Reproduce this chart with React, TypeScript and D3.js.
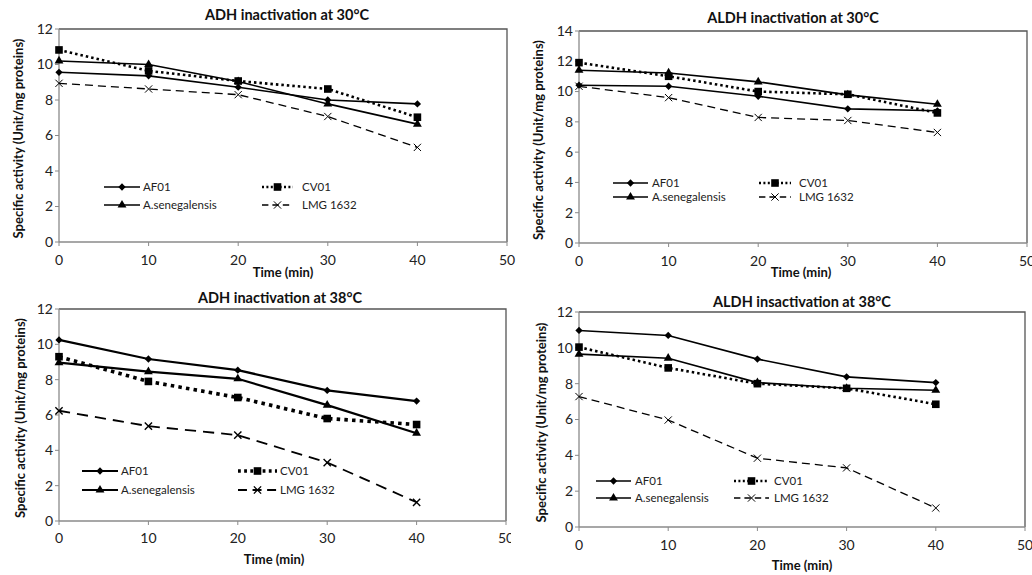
import React, { useEffect, useRef } from "react";
import * as d3 from "d3";

// time points (min)
const times = [0, 10, 20, 30, 40];
const seriesNames = ["AF01", "CV01", "A.senegalensis", "LMG 1632"];

// ADH inactivation at 30°C
const adh30AF01 = [9.56, 9.36, 8.72, 8.0, 7.78];
const adh30CV01 = [10.82, 9.64, 9.07, 8.62, 7.03];
const adh30Asen = [10.2, 10.0, 9.04, 7.78, 6.64];
const adh30LMG = [8.94, 8.62, 8.3, 7.07, 5.33];

// ALDH inactivation at 30°C
const aldh30AF01 = [10.42, 10.35, 9.69, 8.86, 8.73];
const aldh30CV01 = [11.91, 11.01, 10.0, 9.82, 8.59];
const aldh30Asen = [11.41, 11.23, 10.64, 9.78, 9.16];
const aldh30LMG = [10.35, 9.6, 8.29, 8.09, 7.3];

// ADH inactivation at 38°C
const adh38AF01 = [10.25, 9.17, 8.54, 7.39, 6.79];
const adh38CV01 = [9.3, 7.9, 6.99, 5.8, 5.46];
const adh38Asen = [8.96, 8.45, 8.05, 6.56, 4.97];
const adh38LMG = [6.24, 5.37, 4.86, 3.31, 1.06];

// ALDH insactivation at 38°C
const aldh38AF01 = [10.97, 10.69, 9.37, 8.38, 8.06];
const aldh38CV01 = [10.04, 8.88, 8.0, 7.74, 6.85];
const aldh38Asen = [9.65, 9.42, 8.06, 7.74, 7.63];
const aldh38LMG = [7.28, 5.97, 3.84, 3.3, 1.06];

const titles = [
  "ADH inactivation at 30°C",
  "ALDH inactivation at 30°C",
  "ADH inactivation at 38°C",
  "ALDH insactivation at 38°C",
];
const yMaxes = [12, 14, 12, 12];
const xTicks = [0, 10, 20, 30, 40, 50];

const FONT = "Lato, 'Open Sans', sans-serif";

const panels = [
  {
    data: [adh30AF01, adh30CV01, adh30Asen, adh30LMG],
    x0: 59, x1: 507, yTop: 29, yBot: 242,
    titleX: 287, titleY: 15, yLabX: 18, xLabX: 283, xLabY: 272, tickY: 260,
    legRows: [187, 205], legCols: [[104, 140, 143], [262, 293, 302]],
    weight: 1, clip: null,
  },
  {
    data: [aldh30AF01, aldh30CV01, aldh30Asen, aldh30LMG],
    x0: 579, x1: 1027, yTop: 31, yBot: 243,
    titleX: 793, titleY: 18, yLabX: 538, xLabX: 801, xLabY: 272, tickY: 261,
    legRows: [183, 197], legCols: [[613, 648, 652], [759, 791, 799]],
    weight: 1, clip: null,
  },
  {
    data: [adh38AF01, adh38CV01, adh38Asen, adh38LMG],
    x0: 59, x1: 506, yTop: 309, yBot: 521,
    titleX: 280, titleY: 298, yLabX: 20, xLabX: 274, xLabY: 559, tickY: 538,
    legRows: [471, 490], legCols: [[82, 118, 121], [238, 277, 280]],
    weight: 1.4, clip: 511,
  },
  {
    data: [aldh38AF01, aldh38CV01, aldh38Asen, aldh38LMG],
    x0: 579, x1: 1025, yTop: 312, yBot: 527,
    titleX: 802, titleY: 302, yLabX: 541, xLabX: 802, xLabY: 565, tickY: 545,
    legRows: [481, 498], legCols: [[596, 631, 635], [734, 769, 774]],
    weight: 1, clip: null,
  },
];

// line styles per series: AF01, CV01, A.sen, LMG
const dashes = [null, "2.5,3", null, "8,5"];
const widths = [1.6, 2.6, 1.6, 1.3];
const markers = ["diamond", "square", "triangle", "cross"];

function drawMarker(g, type, x, y, w) {
  if (type === "diamond") {
    g.append("path")
      .attr("d", d3.symbol(d3.symbolDiamond2, 34)())
      .attr("transform", `translate(${x},${y})`)
      .attr("fill", "#000");
  } else if (type === "square") {
    g.append("rect")
      .attr("x", x - 3.8).attr("y", y - 3.8)
      .attr("width", 7.6).attr("height", 7.6)
      .attr("fill", "#000");
  } else if (type === "triangle") {
    g.append("path")
      .attr("d", d3.symbol(d3.symbolTriangle, 34)())
      .attr("transform", `translate(${x},${y})`)
      .attr("fill", "#000");
  } else {
    g.append("path")
      .attr("d", d3.symbol(d3.symbolTimes, 36)())
      .attr("transform", `translate(${x},${y})`)
      .attr("fill", "none")
      .attr("stroke", "#000")
      .attr("stroke-width", 1 * w);
  }
}

const App = () => {
  const ref = useRef(null);

  useEffect(() => {
    const svg = d3.select(ref.current);
    svg.selectAll("*").remove();

    svg.append("rect").attr("width", 1032).attr("height", 575).attr("fill", "#fff");

    panels.forEach((p, pi) => {
      let g = svg.append("g");
      if (p.clip) {
        const id = `clip${pi}`;
        svg.append("clipPath").attr("id", id)
          .append("rect").attr("x", 0).attr("y", 280).attr("width", p.clip).attr("height", 295);
        g.attr("clip-path", `url(#${id})`);
      }

      const x = d3.scaleLinear().domain([0, 50]).range([p.x0, p.x1]);
      const y = d3.scaleLinear().domain([0, yMaxes[pi]]).range([p.yBot, p.yTop]);

      // plot area border (top/right)
      g.append("path")
        .attr("d", `M${p.x0},${p.yTop}H${p.x1}V${p.yBot}`)
        .attr("fill", "none").attr("stroke", "#555").attr("stroke-width", 1.3);

      // y axis
      const yTicks = d3.range(0, yMaxes[pi] + 1, 2);
      g.append("line")
        .attr("x1", p.x0).attr("x2", p.x0).attr("y1", p.yTop).attr("y2", p.yBot)
        .attr("stroke", "#8a8a8a").attr("stroke-width", 1.3);
      yTicks.forEach((t) => {
        g.append("line")
          .attr("x1", p.x0 - 4).attr("x2", p.x0).attr("y1", y(t)).attr("y2", y(t))
          .attr("stroke", "#8a8a8a");
        g.append("text")
          .attr("x", p.x0 - 6).attr("y", y(t)).attr("dy", "0.35em")
          .attr("text-anchor", "end")
          .attr("font-family", FONT).attr("font-size", 14).attr("fill", "#222")
          .text(t);
      });

      // x axis
      g.append("line")
        .attr("x1", p.x0).attr("x2", p.x1).attr("y1", p.yBot).attr("y2", p.yBot)
        .attr("stroke", "#8a8a8a").attr("stroke-width", 1.3);
      xTicks.forEach((t) => {
        g.append("line")
          .attr("x1", x(t)).attr("x2", x(t)).attr("y1", p.yBot).attr("y2", p.yBot + 4)
          .attr("stroke", "#8a8a8a");
        g.append("text")
          .attr("x", x(t)).attr("y", p.tickY).attr("dy", "0.35em")
          .attr("text-anchor", "middle")
          .attr("font-family", FONT).attr("font-size", 14).attr("fill", "#222")
          .text(t);
      });

      // titles
      g.append("text")
        .attr("x", p.titleX).attr("y", p.titleY).attr("dy", "0.35em")
        .attr("text-anchor", "middle")
        .attr("font-family", FONT).attr("font-size", 14.5).attr("font-weight", "bold")
        .attr("fill", "#111")
        .text(titles[pi]);
      g.append("text")
        .attr("x", p.xLabX).attr("y", p.xLabY).attr("dy", "0.35em")
        .attr("text-anchor", "middle")
        .attr("font-family", FONT).attr("font-size", 13).attr("font-weight", "bold")
        .attr("fill", "#111")
        .text("Time (min)");
      const yc = (p.yTop + p.yBot) / 2 + 3;
      g.append("text")
        .attr("transform", `translate(${p.yLabX},${yc}) rotate(-90)`)
        .attr("dy", "0.35em")
        .attr("text-anchor", "middle")
        .attr("font-family", FONT).attr("font-size", 13).attr("font-weight", "bold")
        .attr("fill", "#111")
        .text("Specific activity (Unit/mg proteins)");

      // series
      const line = d3.line().x((_, i) => x(times[i])).y((d) => y(d));
      p.data.forEach((vals, si) => {
        const w = p.weight;
        g.append("path")
          .datum(vals)
          .attr("d", line)
          .attr("fill", "none")
          .attr("stroke", "#000")
          .attr("stroke-width", widths[si] * w)
          .attr("stroke-dasharray", dashes[si] ? dashes[si].split(",").map((v) => +v * w).join(",") : null);
        vals.forEach((v, i) => drawMarker(g, markers[si], x(times[i]), y(v), w));
      });

      // legend: row 0 = AF01, CV01; row 1 = A.sen, LMG
      const order = [[0, 1], [2, 3]];
      order.forEach((row, ri) => {
        row.forEach((si, ci) => {
          const [lx0, lx1, tx] = p.legCols[ci];
          const ly = p.legRows[ri];
          const w = p.weight;
          g.append("line")
            .attr("x1", lx0).attr("x2", lx1).attr("y1", ly).attr("y2", ly)
            .attr("stroke", "#000")
            .attr("stroke-width", widths[si] * w)
            .attr("stroke-dasharray", dashes[si] ? dashes[si].split(",").map((v) => +v * w * 0.8).join(",") : null);
          drawMarker(g, markers[si], (lx0 + lx1) / 2, ly, w);
          g.append("text")
            .attr("x", tx).attr("y", ly).attr("dy", "0.35em")
            .attr("font-family", FONT).attr("font-size", 11.5).attr("fill", "#222")
            .text(seriesNames[si]);
        });
      });
    });
  }, []);

  return (
    <svg
      ref={ref}
      width={1032}
      height={575}
      style={{ position: "absolute", left: 0, top: 0 }}
    />
  );
};

export default App;
